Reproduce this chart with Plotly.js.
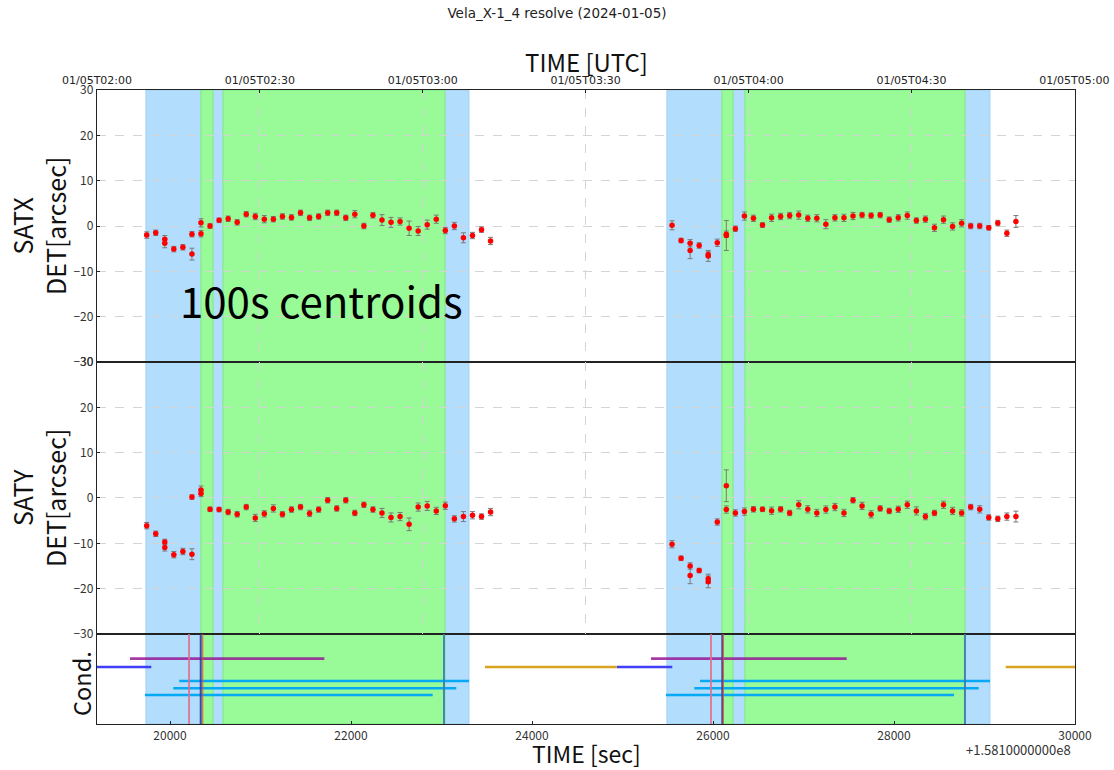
<!DOCTYPE html>
<html>
<head>
<meta charset="utf-8">
<script src="https://cdn.plot.ly/plotly-3.0.1.min.js"></script>
<style>html,body{margin:0;padding:0;background:#fff;}#chart{width:1114px;height:770px;}</style>
</head>
<body>
<div id="chart"></div>
<script>
// ---- data ----
var timeLeft = [19742,19842,19942,19942,20042,20142,20242,20242,20342,20342,
  20442,20542,20642,20742,20842,20942,21042,21142,21242,21342,
  21442,21542,21642,21742,21842,21942,22042,22142,22242,22342,
  22442,22542,22642,22742,22842,22942,23042,23142,23242,23342,
  23442,23542];
var timeRight = [25547,25647,25747,25747,25847,25947,25947,26047,26147,26147,
  26247,26347,26447,26547,26647,26747,26847,26947,27047,27147,
  27247,27347,27447,27547,27647,27747,27847,27947,28047,28147,
  28247,28347,28447,28547,28647,28747,28847,28947,29047,29147,
  29247,29347];
var satxLeft = [-2.0,-1.5,-2.9,-3.8,-5.1,-4.7,-1.8,-6.2,0.7,-1.7,
  0.0,1.25,1.6,0.8,2.6,2.1,1.5,1.5,2.1,1.9,
  2.9,1.8,2.1,2.9,2.9,1.8,2.6,0.0,2.35,1.3,
  0.8,1.0,-0.5,-1.1,0.3,1.5,-1.0,0.0,-2.6,-2.1,
  -0.8,-3.3];
var satxLeftErr = [0.7,0.6,0.8,1.0,0.6,0.6,0.6,1.3,0.9,0.7,
  0.5,0.5,0.6,0.6,0.6,0.7,0.8,0.6,0.6,0.6,
  0.6,0.6,0.6,0.6,0.6,0.6,0.8,0.6,0.6,1.2,
  1.1,0.8,1.6,1.0,1.0,0.9,0.7,0.8,1.1,0.7,
  0.6,0.8];
var satyLeft = [-6.1,-7.9,-9.7,-10.9,-12.5,-11.8,-12.4,0.2,1.75,1.0,
  -2.5,-2.55,-3.1,-3.6,-2.0,-4.4,-3.5,-2.3,-3.6,-2.55,
  -2.0,-3.4,-2.55,-0.5,-2.3,-0.5,-3.3,-1.5,-2.55,-3.3,
  -4.3,-4.1,-5.8,-2.0,-1.75,-2.85,-1.7,-4.6,-4.1,-3.8,
  -4.1,-3.1];
var satyLeftErr = [0.7,0.6,0.6,0.8,0.7,0.7,1.2,0.5,0.9,0.7,
  0.5,0.5,0.6,0.6,0.6,0.8,0.7,0.8,0.6,0.6,
  0.6,0.7,0.6,0.6,0.6,0.6,0.6,0.6,0.6,1.0,
  1.0,0.9,1.4,0.9,1.0,0.8,0.8,0.7,1.1,0.8,
  0.6,0.8];
var satxRight = [0.15,-3.2,-3.8,-5.4,-4.3,-6.6,-6.3,-3.7,-2.1,-1.8,
  -0.6,2.2,1.7,0.2,1.8,2.1,2.3,2.4,1.7,1.7,
  0.4,1.8,1.8,2.2,2.4,2.3,2.4,1.4,1.8,2.3,
  1.2,1.5,-0.4,1.4,-0.1,0.6,0.0,0.0,-0.4,0.65,
  -1.6,1.0];
var satxRightErr = [1.0,0.5,0.8,1.8,0.6,1.2,0.6,0.8,3.3,0.7,
  0.6,0.9,0.7,0.5,0.8,0.7,0.7,0.9,0.7,0.8,
  1.0,0.7,0.8,0.8,0.6,0.6,0.6,0.6,0.7,0.8,
  0.6,0.7,0.8,0.8,0.8,0.8,0.6,0.6,0.5,0.6,
  0.7,1.3];
var satyRight = [-10.2,-13.3,-15.0,-17.1,-16.0,-17.8,-18.5,-5.3,2.7,-2.55,
  -3.3,-3.0,-2.5,-2.5,-2.8,-2.5,-3.3,-1.5,-2.5,-3.3,
  -2.55,-2.0,-3.3,-0.5,-1.75,-3.6,-2.3,-2.85,-2.5,-1.5,
  -2.85,-4.1,-3.3,-1.5,-2.85,-3.3,-2.0,-2.5,-4.3,-4.6,
  -4.1,-4.1];
var satyRightErr = [0.8,0.5,0.7,1.8,0.5,1.0,1.3,0.7,3.5,0.8,
  0.7,0.8,0.6,0.5,0.8,0.6,0.6,0.9,0.8,0.8,
  0.8,0.8,0.8,0.6,0.8,0.8,0.6,0.6,0.7,0.8,
  0.9,0.7,0.6,0.8,0.8,0.7,0.6,0.8,0.6,0.6,
  0.8,1.2];

// shaded intervals (sec)
var blueStart = [19734, 25491];
var blueEnd   = [23303, 29060];
var greenStart = [20342, 20585, 26099, 26353];
var greenEnd   = [20475, 23038, 26221, 28784];

// condition panel: vertical markers (sec)
var vPink  = [20210, 25978];
var vDark  = [20339, 26103];
var vRed   = [20361, 26114];
var vSteel = [23027, 28784];

// condition panel: horizontal segments
var magStart = [19558, 25315], magEnd = [21705, 27477], magLevel = 0.726;
var blueSegStart = [19000, 24936], blueSegEnd = [19793, 25550], blueLevel = 0.633;
var goldStart = [23480, 29234], goldEnd = [24936, 30200], goldLevel = 0.633;
var cyan1Start = [20102, 25856], cyan1End = [23304, 29061], cyan1Level = 0.478;
var cyan2Start = [20036, 25793], cyan2End = [23163, 28936], cyan2Level = 0.397;
var cyan3Start = [19723, 25480], cyan3End = [22902, 28663], cyan3Level = 0.322;

// axis ticks
var xRange = [19193, 30000];
var secTicks = [20000, 22000, 24000, 26000, 28000, 30000];
var utcTickSec = [19193, 20993, 22793, 24593, 26393, 28193, 29993];
var utcTickText = ['01/05T02:00','01/05T02:30','01/05T03:00','01/05T03:30','01/05T04:00','01/05T04:30','01/05T05:00'];
var yTicks = [-30, -20, -10, 0, 10, 20, 30];

// ---- build ----
function segs(starts, ends, level) {
  var xs = [], ys = [];
  for (var i = 0; i < starts.length; i++) {
    xs.push(starts[i], ends[i], null);
    ys.push(level, level, null);
  }
  return {x: xs, y: ys};
}
var errStyle = function(arr){ return {type:'data', array: arr, visible:true, color:'#7a7a7a', thickness:1, width:2.5}; };
var markerStyle = {color:'#ff0000', size:5.5, symbol:'circle', line:{width:0}};

var traces = [
  {x: timeLeft.concat(timeRight), y: satxLeft.concat(satxRight), xaxis:'x2', yaxis:'y', mode:'markers', type:'scatter',
   marker: markerStyle, error_y: errStyle(satxLeftErr.concat(satxRightErr)), showlegend:false, hoverinfo:'skip'},
  {x: timeLeft.concat(timeRight), y: satyLeft.concat(satyRight), xaxis:'x3', yaxis:'y2', mode:'markers', type:'scatter',
   marker: markerStyle, error_y: errStyle(satyLeftErr.concat(satyRightErr)), showlegend:false, hoverinfo:'skip'}
];
var segDefs = [
  [magStart, magEnd, magLevel, 'rgba(150,25,150,0.85)'],
  [blueSegStart, blueSegEnd, blueLevel, '#3f3ff5'],
  [goldStart, goldEnd, goldLevel, '#d9a521'],
  [cyan1Start, cyan1End, cyan1Level, '#05a9f4'],
  [cyan2Start, cyan2End, cyan2Level, '#05a9f4'],
  [cyan3Start, cyan3End, cyan3Level, '#05a9f4']
];
segDefs.forEach(function(d){
  var s = segs(d[0], d[1], d[2]);
  traces.push({x:s.x, y:s.y, xaxis:'x', yaxis:'y3', mode:'lines', type:'scatter',
    line:{color:d[3], width:2.6}, showlegend:false, hoverinfo:'skip'});
});

var shapes = [];
for (var i = 0; i < blueStart.length; i++) {
  shapes.push({type:'rect', xref:'x', yref:'paper', x0:blueStart[i], x1:blueEnd[i], y0:0, y1:1,
    fillcolor:'#b3ddfc', line:{color:'#9ccff5', width:1}, layer:'below'});
}
for (var j = 0; j < greenStart.length; j++) {
  shapes.push({type:'rect', xref:'x', yref:'paper', x0:greenStart[j], x1:greenEnd[j], y0:0, y1:1,
    fillcolor:'#98fb98', line:{color:'#7fe87f', width:1}, layer:'below'});
}
function vlines(arr, color, w) {
  arr.forEach(function(v){
    shapes.push({type:'line', xref:'x', yref:'y3', x0:v, x1:v, y0:0, y1:1, line:{color:color, width:w}, layer:'above'});
  });
}
vlines(vPink, 'rgba(225,110,140,0.85)', 2);
vlines(vDark, 'rgba(60,50,170,0.9)', 2);
vlines(vRed, 'rgba(230,80,40,0.8)', 1.2);
vlines(vSteel, 'rgba(60,120,185,0.9)', 2);

var fam = 'Noto Sans CJK JP, Noto Sans, sans-serif';
var tickFont = {family:fam, size:12, color:'#333'};
var labFont = {family:fam, size:25, color:'#111'};
var axLine = {showline:true, linecolor:'#222', linewidth:1.2, mirror:true};

var yBase = function(domain, anchor){
  return Object.assign({domain:domain, anchor:anchor, range:[-30,30], tickvals:yTicks, tickfont:tickFont,
    ticks:'inside', ticklen:3, tickcolor:'#222', showgrid:true, gridcolor:'#d4d4d4', griddash:'dash', gridwidth:1,
    zeroline:false, fixedrange:true}, axLine);
};

var layout = {
  width:1114, height:770,
  margin:{l:97, r:39, t:90, b:46},
  paper_bgcolor:'#ffffff', plot_bgcolor:'rgba(0,0,0,0)',
  title:{text:'Vela_X-1_4 resolve (2024-01-05)', font:{family:'DejaVu Sans', size:13.5, color:'#222'},
    x:0.5, xanchor:'center', y:0.983, yanchor:'middle', yref:'container'},
  showlegend:false,
  xaxis: Object.assign({domain:[0,1], anchor:'y3', range:xRange, tickvals:secTicks, tickformat:'d', tickfont:tickFont,
    ticks:'inside', ticklen:3, tickcolor:'#222', showgrid:false, zeroline:false}, axLine),
  xaxis2: Object.assign({domain:[0,1], anchor:'y', matches:'x', side:'top', tickvals:utcTickSec, ticktext:utcTickText,
    tickfont:{family:'DejaVu Sans', size:11, color:'#222'}, ticks:'inside', ticklen:3, tickcolor:'#222',
    showgrid:true, gridcolor:'#d4d4d4', griddash:'dash', zeroline:false}, axLine),
  xaxis3: Object.assign({domain:[0,1], anchor:'y2', matches:'x', tickvals:utcTickSec, showticklabels:false, ticks:'',
    showgrid:true, gridcolor:'#d4d4d4', griddash:'dash', zeroline:false}, axLine),
  yaxis: yBase([0.57098, 1], 'x2'),
  yaxis2: yBase([0.14196, 0.57098], 'x3'),
  yaxis3: Object.assign({domain:[0, 0.14196], anchor:'x', range:[0,1], showticklabels:false, ticks:'',
    showgrid:false, zeroline:false}, axLine),
  shapes: shapes,
  annotations: [
    {text:'100s centroids', xref:'paper', yref:'paper', x:0.2295, y:0.6688, xanchor:'center', yanchor:'middle',
     showarrow:false, font:{family:fam, size:42, color:'#000'}},
    {text:'SATX<br>DET[arcsec]', xref:'paper', yref:'paper', x:-0.0593, y:0.7855, xanchor:'center', yanchor:'middle',
     textangle:-90, showarrow:false, font:labFont},
    {text:'SATY<br>DET[arcsec]', xref:'paper', yref:'paper', x:-0.0593, y:0.3565, xanchor:'center', yanchor:'middle',
     textangle:-90, showarrow:false, font:labFont},
    {text:'Cond.', xref:'paper', yref:'paper', x:-0.0164, y:0.0647, xanchor:'center', yanchor:'middle',
     textangle:-90, showarrow:false, font:{family:fam, size:23.5, color:'#111'}},
    {text:'TIME [UTC]', xref:'paper', yref:'paper', x:0.5, y:1.0442, xanchor:'center', yanchor:'middle',
     showarrow:false, font:{family:fam, size:24, color:'#111'}},
    {text:'TIME [sec]', xref:'paper', yref:'paper', x:0.5, y:-0.0465, xanchor:'center', yanchor:'middle',
     showarrow:false, font:{family:fam, size:23, color:'#111'}},
    {text:'+1.5810000000e8', xref:'paper', yref:'paper', x:0.998, y:-0.041, xanchor:'right', yanchor:'middle',
     showarrow:false, font:{family:fam, size:13, color:'#333'}}
  ]
};
Plotly.newPlot('chart', traces, layout, {displayModeBar:false, staticPlot:true});
</script>
</body>
</html>
